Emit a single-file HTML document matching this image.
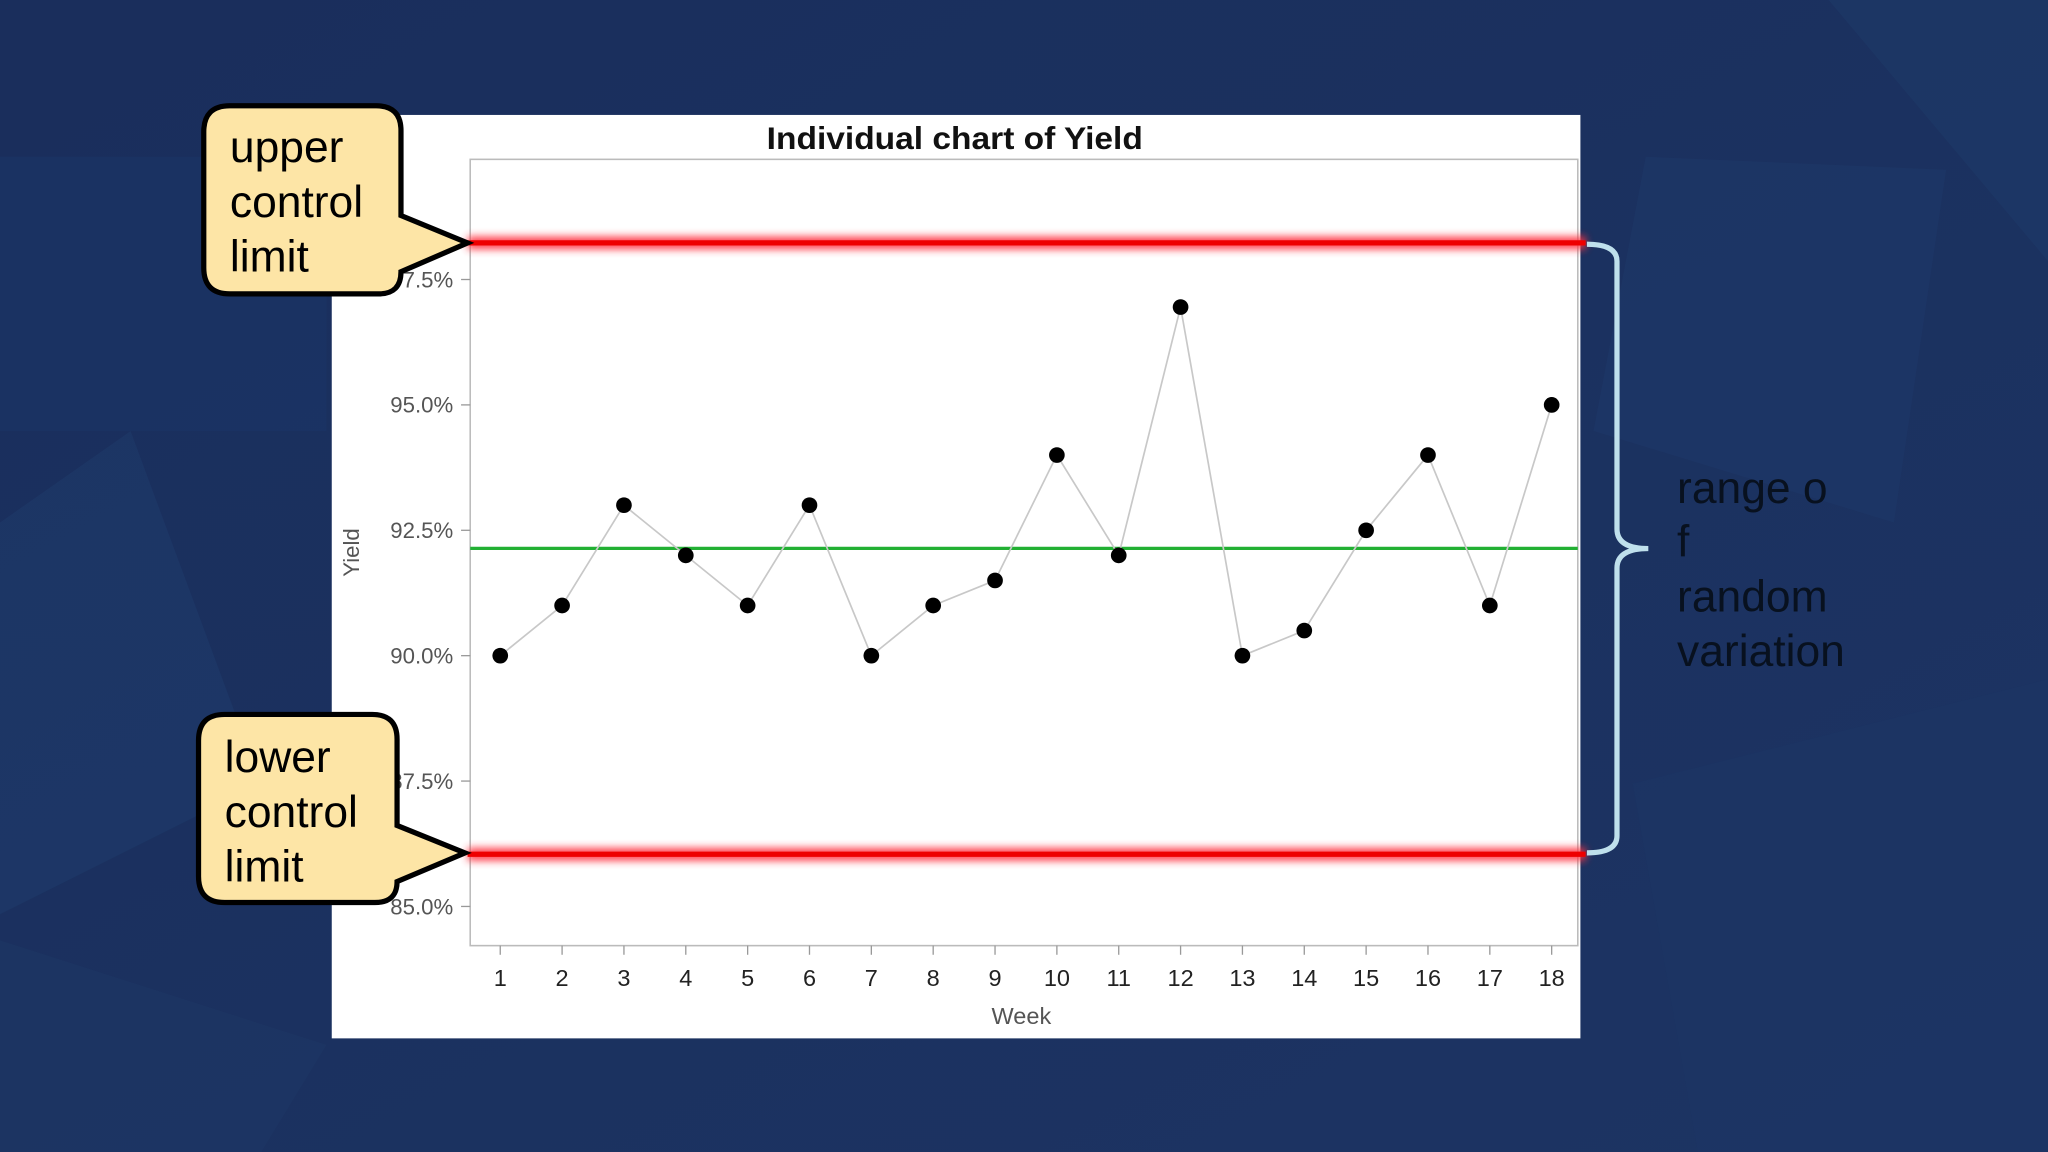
<!DOCTYPE html>
<html><head><meta charset="utf-8"><style>
html,body{margin:0;padding:0;width:2048px;height:1152px;overflow:hidden;background:#1b3160}
svg{display:block}
</style></head><body>
<svg id="chart" width="2048" height="1152" viewBox="0 0 1568 882" xmlns="http://www.w3.org/2000/svg">
<defs>
<linearGradient id="bg" x1="0" y1="0" x2="1" y2="1"><stop offset="0" stop-color="#1a2e5c"/><stop offset="1" stop-color="#1c3463"/></linearGradient>
<filter id="glow" filterUnits="userSpaceOnUse" x="300" y="0" width="1000" height="882"><feGaussianBlur stdDeviation="3"/></filter>
</defs>
<g>
<rect width="1568" height="882" fill="url(#bg)"/>
<polygon points="0,120 250,120 250,330 0,330" fill="#1e3a6c" opacity="0.35"/>
<polygon points="100,330 200,600 0,700 0,400" fill="#24467a" opacity="0.25"/>
<polygon points="1260,120 1490,130 1450,400 1220,330" fill="#203f70" opacity="0.3"/>
<polygon points="1400,0 1568,0 1568,200" fill="#22426f" opacity="0.3"/>
<polygon points="1250,600 1568,520 1568,882 1300,882" fill="#1d3766" opacity="0.35"/>
<polygon points="0,720 250,800 200,882 0,882" fill="#1f3b6b" opacity="0.35"/>
</g>
<rect x="254" y="88" width="956" height="707" fill="#fff"/>
<text x="731" y="114" text-anchor="middle" font-family="Liberation Sans, sans-serif" font-weight="bold" font-size="24" fill="#111" textLength="288" lengthAdjust="spacingAndGlyphs">Individual chart of Yield</text>
<rect x="360" y="122" width="848" height="602" fill="none" stroke="#bbb" stroke-width="1.2"/>
<g id="yaxis"></g>
<g id="xaxis"></g>
<text transform="translate(275,423) rotate(-90)" text-anchor="middle" font-family="Liberation Sans, sans-serif" font-size="17" fill="#555">Yield</text>
<text x="782" y="784" text-anchor="middle" font-family="Liberation Sans, sans-serif" font-size="18" fill="#555">Week</text>
<g id="limits"></g>
<g id="series"></g>
<g>
<path d="M176,81 H288 Q307,81 307,100 V165 L358,186 L307,208 Q307,225 290,225 H176 Q156,225 156,205 V101 Q156,81 176,81 Z" fill="#fde5a6" stroke="#000" stroke-width="4"/>
<text x="176" y="124" font-family="Liberation Sans, sans-serif" font-size="34" fill="#000">upper</text>
<text x="176" y="166" font-family="Liberation Sans, sans-serif" font-size="34" fill="#000">control</text>
<text x="176" y="208" font-family="Liberation Sans, sans-serif" font-size="34" fill="#000">limit</text>
</g>
<g>
<path d="M172,547 H285 Q304,547 304,566 V632 L356,653 L304,675 Q304,691 287,691 H172 Q152,691 152,671 V567 Q152,547 172,547 Z" fill="#fde5a6" stroke="#000" stroke-width="4"/>
<text x="172" y="591" font-family="Liberation Sans, sans-serif" font-size="34" fill="#000">lower</text>
<text x="172" y="633" font-family="Liberation Sans, sans-serif" font-size="34" fill="#000">control</text>
<text x="172" y="675" font-family="Liberation Sans, sans-serif" font-size="34" fill="#000">limit</text>
</g>
<path d="M1215,187 Q1238,187 1238,200 V405 Q1238,420 1262,420 Q1238,420 1238,435 V640 Q1238,653 1215,653" fill="none" stroke="#bfe0ec" stroke-width="4"/>
<g font-family="Liberation Sans, sans-serif" font-size="34" fill="#08111f">
<text x="1284" y="385">range o</text>
<text x="1284" y="426">f</text>
<text x="1284" y="468">random</text>
<text x="1284" y="510">variation</text>
</g>
</svg>
<script>
const weeks=[1,2,3,4,5,6,7,8,9,10,11,12,13,14,15,16,17,18];
const yieldValues=[90,91,93,92,91,93,90,91,91.5,94,92,96.95,90,90.5,92.5,94,91,95];
const yTicks=[85,87.5,90,92.5,95,97.5];
const yTickLabels=["85.0%","87.5%","90.0%","92.5%","95.0%","97.5%"];
const centerLine=92.14;
const ucl=98.23;
const lcl=86.04;
const NS="http://www.w3.org/2000/svg";
function y(v){return 502-(v-90)*38.4;}
function x(w){return 383+(w-1)*(1188-383)/17;}
function mk(tag,attrs,parent){const e=document.createElementNS(NS,tag);for(const k in attrs)e.setAttribute(k,attrs[k]);parent.appendChild(e);return e;}
const ya=document.getElementById('yaxis');
yTicks.forEach((t,i)=>{
 const l=mk('line',{x1:353,x2:360,y1:y(t),y2:y(t),stroke:'#999'},ya);
 
 
 const tx=mk('text',{x:347,y:y(t)+6,'text-anchor':'end','font-family':'Liberation Sans, sans-serif','font-size':'17',fill:'#555'},ya);
 tx.textContent=yTickLabels[i];
 
 
});
const xa=document.getElementById('xaxis');
weeks.forEach(w=>{
 const l=mk('line',{x1:x(w),x2:x(w),y1:724,y2:731,stroke:'#999'},xa);
 
 
 const tx=mk('text',{x:x(w),y:755,'text-anchor':'middle','font-family':'Liberation Sans, sans-serif','font-size':'18',fill:'#222'},xa);
 tx.textContent=w;
 
 
});
const lim=document.getElementById('limits');
const cl=mk('line',{x1:360,x2:1208,y1:y(centerLine),y2:y(centerLine),stroke:'#22b033','stroke-width':2.5},lim);


[[ucl,'ucl-line'],[lcl,'lcl-line']].forEach(([v,n])=>{
 const g=mk('line',{x1:358,x2:1214,y1:y(v),y2:y(v),stroke:'#ff3040','stroke-width':10,filter:'url(#glow)',opacity:0.9},lim);
 
 
 const l=mk('line',{x1:358,x2:1214,y1:y(v),y2:y(v),stroke:'#ee0000','stroke-width':4},lim);
 
 
});
const s=document.getElementById('series');
const pl=mk('polyline',{points:weeks.map((w,i)=>x(w)+','+y(yieldValues[i])).join(' '),fill:'none',stroke:'#c8c8c8','stroke-width':1.3},s);


weeks.forEach((w,i)=>{
 const c=mk('circle',{cx:x(w),cy:y(yieldValues[i]),r:6,fill:'#000'},s);
 
 
});
</script>
</body></html>
